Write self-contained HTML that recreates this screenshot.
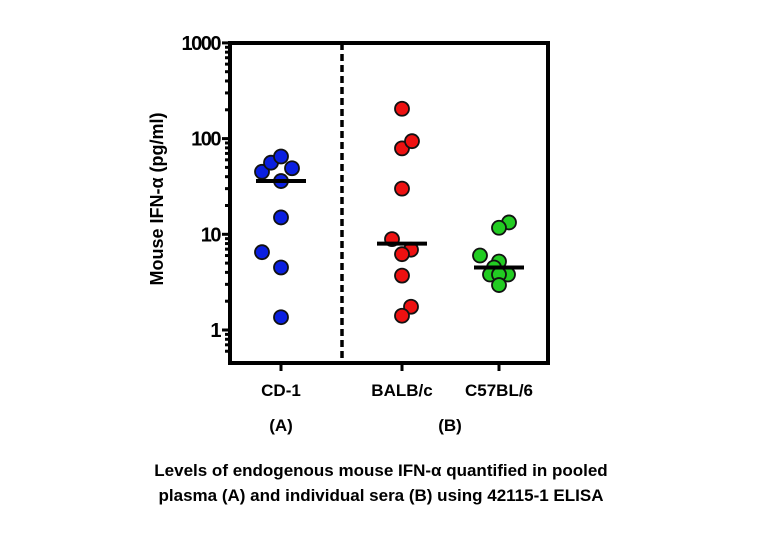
<!DOCTYPE html>
<html><head><meta charset="utf-8">
<style>
html,body{margin:0;padding:0;background:#fff;}
svg{display:block;font-family:"Liberation Sans",Arial,sans-serif;font-weight:bold;}
</style></head>
<body>
<svg id="chart" width="762" height="550" viewBox="0 0 762 550" xmlns="http://www.w3.org/2000/svg">
<g id="frame"></g>
<g id="yaxis"></g>
<g id="xaxis"></g>
<g id="marks"></g>
<text x="0" y="0" transform="translate(163,199) rotate(-90)" text-anchor="middle" font-size="18">Mouse IFN-α (pg/ml)</text>
<text x="281" y="431" text-anchor="middle" font-size="17">(A)</text>
<text x="450" y="431" text-anchor="middle" font-size="17">(B)</text>
<text x="381" y="476" text-anchor="middle" font-size="17">Levels of endogenous mouse IFN-α quantified in pooled</text>
<text x="381" y="501" text-anchor="middle" font-size="17">plasma (A) and individual sera (B) using 42115-1 ELISA</text>
</svg>
<script>
const categories = ["CD-1", "BALB/c", "C57BL/6"];
const colors = ["#0a1fe0", "#ee1111", "#22cc22"];
const cd1Values = [45, 56, 65, 49, 36, 15, 6.5, 4.5, 1.36];
const cd1Jitter = [-19, -10, 0, 11, 0, 0, -19, 0, 0];
const balbValues = [205, 79, 94, 30, 8.9, 6.9, 6.2, 3.7, 1.75, 1.41];
const balbJitter = [0, 0, 10, 0, -10, 9, 0, 0, 9, 0];
const c57Values = [13.3, 11.7, 6.0, 5.2, 4.5, 3.8, 3.8, 3.8, 2.95];
const c57Jitter = [10, 0, -19, 0, -5, -9, 9, 0, 0];
const medians = [36, 8.0, 4.5];
const yTicks = [1, 10, 100, 1000];
const yTickLabels = ["1", "10", "100", "1000"];

const NS = "http://www.w3.org/2000/svg";
const plotL = 230, plotR = 548, plotT = 43, plotB = 363;
function yScale(v){ return 330 - Math.log10(v) * 95.7; }
const catX = [281, 402, 499];
function xScale(i){ return catX[i]; }
function mk(tag, attrs, parent){
  const e = document.createElementNS(NS, tag);
  for (const k in attrs) e.setAttribute(k, attrs[k]);
  parent.appendChild(e);
  return e;
}
const frame = document.getElementById('frame');
const f = mk('rect', {x: plotL, y: plotT, width: plotR - plotL, height: plotB - plotT, fill: 'none', stroke: '#000', 'stroke-width': 4}, frame);


const dl = mk('line', {x1: 342, y1: plotT, x2: 342, y2: plotB, stroke: '#000', 'stroke-width': 3.5, 'stroke-dasharray': '7,4'}, frame);



const yaxis = document.getElementById('yaxis');
yTicks.forEach((t, i) => {
  const y = yScale(t);
  const tl = mk('line', {x1: plotL - 8, y1: y, x2: plotL, y2: y, stroke: '#000', 'stroke-width': 3}, yaxis);
  
  
  const tx = mk('text', {x: plotL - 10, y: y + 7, 'text-anchor': 'end', 'font-size': 20, 'letter-spacing': '-1.5'}, yaxis);
  tx.textContent = yTickLabels[i];
  
  
  if (t < 1000) {
    for (let m = 2; m <= 9; m++) {
      const ym = yScale(t * m);
      const ml = mk('line', {x1: plotL - 5, y1: ym, x2: plotL, y2: ym, stroke: '#000', 'stroke-width': 3}, yaxis);
      
      
    }
  }
});
[0.6, 0.7, 0.8, 0.9].forEach(v => {
  const ml = mk('line', {x1: plotL - 5, y1: yScale(v), x2: plotL, y2: yScale(v), stroke: '#000', 'stroke-width': 3}, yaxis);
  
  
});

const xaxis = document.getElementById('xaxis');
categories.forEach((c, i) => {
  const x = xScale(i);
  const tl = mk('line', {x1: x, y1: plotB, x2: x, y2: plotB + 8, stroke: '#000', 'stroke-width': 3}, xaxis);
  
  
  const tx = mk('text', {x: x, y: 396, 'text-anchor': 'middle', 'font-size': 17}, xaxis);
  tx.textContent = c;
  
  
});

const marks = document.getElementById('marks');
const groups = [[cd1Values, cd1Jitter], [balbValues, balbJitter], [c57Values, c57Jitter]];
groups.forEach((g, gi) => {
  const [vals, jit] = g;
  vals.forEach((v, j) => {
    const c = mk('circle', {cx: xScale(gi) + jit[j], cy: yScale(v), r: 7, fill: colors[gi], stroke: '#111', 'stroke-width': 1.8}, marks);
    
    
  });
  const my = yScale(medians[gi]);
  const ml = mk('line', {x1: xScale(gi) - 25, y1: my, x2: xScale(gi) + 25, y2: my, stroke: '#000', 'stroke-width': 4}, marks);
  
  
});
</script>
</body></html>
